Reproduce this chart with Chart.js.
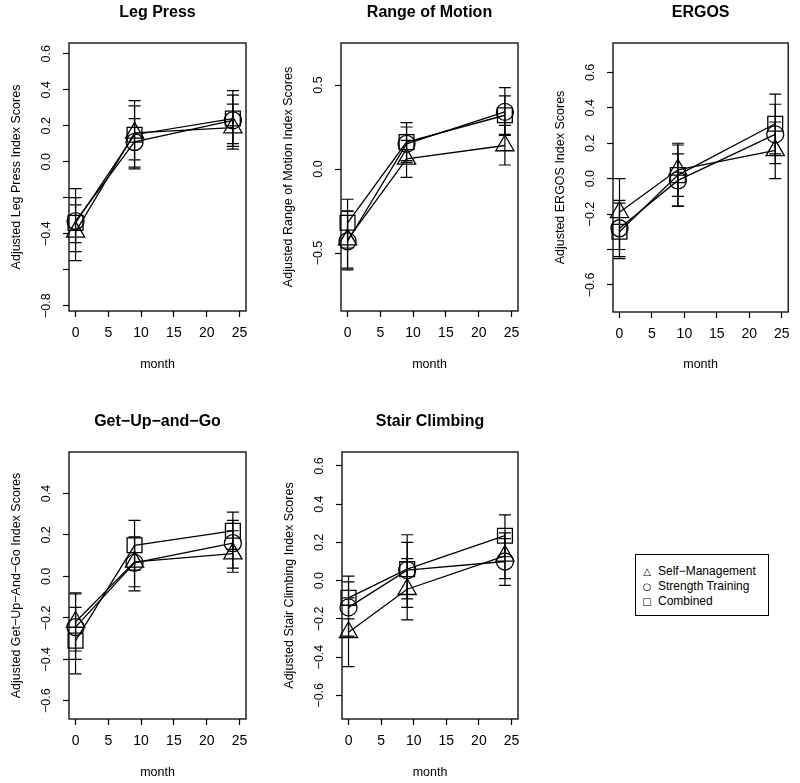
<!DOCTYPE html>
<html>
<head>
<meta charset="utf-8">
<script src="https://cdn.jsdelivr.net/npm/chart.js@4.4.1/dist/chart.umd.min.js"></script>
<style>
  body { margin: 0; background: #fff; width: 800px; height: 783px; overflow: hidden; position: relative;
         font-family: "Liberation Sans", Arial, sans-serif; }
  .panel { position: absolute; }
  #legend { position: absolute; left: 635px; top: 554px; width: 134px; height: 62px; border: 1px solid #000;
            font-size: 12px; color: #000; box-sizing: border-box; padding-top: 9px; }
  #legend div { height: 15px; line-height: 15px; white-space: nowrap; }
  #legend span.sym { display: inline-block; width: 22px; text-align: center; font-family: "DejaVu Sans"; font-size: 10px; }
</style>
</head>
<body>
<div id="legend"></div>
<script>
// shared x values and tick labels
const months = [0, 5, 10, 15, 20, 25];
const visits = [0, 9, 24];
const seriesNames = ['Self\u2212Management', 'Strength Training', 'Combined'];
const seriesSymbols = ['triangle', 'circle', 'rect'];

// Leg Press: [self, strength, combined]
const legPressMean = [[-0.39, 0.16, 0.19], [-0.33, 0.11, 0.23], [-0.34, 0.15, 0.24]];
const legPressLow  = [[-0.55, 0.01, 0.07], [-0.50, -0.03, 0.085], [-0.45, -0.04, 0.10]];
const legPressHigh = [[-0.24, 0.31, 0.32], [-0.15, 0.24, 0.37], [-0.20, 0.34, 0.395]];
const legPressTicks = [-0.8, -0.6, -0.4, -0.2, 0, 0.2, 0.4, 0.6];
const legPressLabels = ['\u22120.8', '', '\u22120.4', '', '0.0', '0.2', '0.4', '0.6'];

// Range of Motion
const romMean = [[-0.42, 0.06, 0.14], [-0.43, 0.15, 0.34], [-0.32, 0.16, 0.32]];
const romLow  = [[-0.59, -0.05, 0.024], [-0.60, 0.04, 0.20], [-0.47, 0.05, 0.206]];
const romHigh = [[-0.25, 0.17, 0.26], [-0.25, 0.25, 0.484], [-0.18, 0.276, 0.435]];
const romTicks = [-0.5, 0, 0.5];
const romLabels = ['\u22120.5', '0.0', '0.5'];

// ERGOS
const ergosMean = [[-0.19, 0.05, 0.16], [-0.28, -0.01, 0.25], [-0.30, 0.02, 0.31]];
const ergosLow  = [[-0.40, -0.10, 0.0], [-0.44, -0.155, 0.085], [-0.452, -0.155, 0.14]];
const ergosHigh = [[0.0, 0.20, 0.32], [-0.123, 0.14, 0.42], [-0.138, 0.19, 0.477]];
const ergosTicks = [-0.6, -0.4, -0.2, 0, 0.2, 0.4, 0.6];
const ergosLabels = ['\u22120.6', '', '\u22120.2', '0.0', '0.2', '0.4', '0.6'];

// Get-Up-and-Go
const gugMean = [[-0.22, 0.07, 0.11], [-0.245, 0.065, 0.16], [-0.31, 0.15, 0.22]];
const gugLow  = [[-0.36, -0.05, 0.02], [-0.40, -0.07, 0.04], [-0.47, 0.03, 0.13]];
const gugHigh = [[-0.08, 0.19, 0.22], [-0.085, 0.19, 0.27], [-0.15, 0.27, 0.31]];
const gugTicks = [-0.6, -0.4, -0.2, 0, 0.2, 0.4];
const gugLabels = ['\u22120.6', '\u22120.4', '\u22120.2', '0.0', '0.2', '0.4'];

// Stair Climbing
const stairMean = [[-0.27, -0.045, 0.13], [-0.14, 0.055, 0.10], [-0.09, 0.06, 0.235]];
const stairLow  = [[-0.45, -0.205, 0.01], [-0.29, -0.095, -0.025], [-0.20, -0.14, 0.125]];
const stairHigh = [[-0.09, 0.115, 0.25], [-0.007, 0.20, 0.22], [0.024, 0.24, 0.344]];
const stairTicks = [-0.6, -0.4, -0.2, 0, 0.2, 0.4, 0.6];
const stairLabels = ['\u22120.6', '\u22120.4', '\u22120.2', '0.0', '0.2', '0.4', '0.6'];

const panels = [
  { title: 'Leg Press', yTitle: 'Adjusted Leg Press Index Scores', mean: legPressMean, low: legPressLow, high: legPressHigh,
    ticks: legPressTicks, labels: legPressLabels, yMin: -0.83, yMax: 0.66, left: 0, top: 0, w: 265, box: [69, 43, 246, 311] },
  { title: 'Range of Motion', yTitle: 'Adjusted Range of Motion Index Scores', mean: romMean, low: romLow, high: romHigh,
    ticks: romTicks, labels: romLabels, yMin: -0.845, yMax: 0.75, left: 265, top: 0, w: 265, box: [76, 43, 253, 311] },
  { title: 'ERGOS', yTitle: 'Adjusted ERGOS Index Scores', mean: ergosMean, low: ergosLow, high: ergosHigh,
    ticks: ergosTicks, labels: ergosLabels, yMin: -0.753, yMax: 0.766, left: 530, top: 0, w: 270, box: [83, 43, 261, 312] },
  { title: 'Get\u2212Up\u2212and\u2212Go', yTitle: 'Adjusted Get\u2212Up\u2212And\u2212Go Index Scores', mean: gugMean, low: gugLow, high: gugHigh,
    ticks: gugTicks, labels: gugLabels, yMin: -0.688, yMax: 0.6, left: 0, top: 408, w: 265, box: [69, 44, 246, 311] },
  { title: 'Stair Climbing', yTitle: 'Adjusted Stair Climbing Index Scores', mean: stairMean, low: stairLow, high: stairHigh,
    ticks: stairTicks, labels: stairLabels, yMin: -0.724, yMax: 0.673, left: 265, top: 408, w: 265, box: [77, 44, 253, 311] },
];

const FONT = '"Liberation Sans", Arial, sans-serif';
const canvasH = 390;

// error bars, the box around the plot and the panel title
const panelDecor = {
  id: 'panelDecor',
  afterDatasetsDraw(chart, args, opts) {
    const { ctx, chartArea: a, scales: { x, y } } = chart;
    ctx.save();
    ctx.strokeStyle = '#000';
    ctx.lineWidth = 1.2;
    chart.data.datasets.forEach(ds => {
      ds.low.forEach((lo, i) => {
        const px = x.getPixelForValue(visits[i]);
        const pTop = y.getPixelForValue(ds.high[i]);
        const pBot = y.getPixelForValue(lo);
        ctx.beginPath();
        ctx.moveTo(px, pTop); ctx.lineTo(px, pBot);
        ctx.moveTo(px - 6, pTop); ctx.lineTo(px + 6, pTop);
        ctx.moveTo(px - 6, pBot); ctx.lineTo(px + 6, pBot);
        ctx.stroke();
      });
    });
    ctx.lineWidth = 1.3;
    ctx.strokeRect(a.left, a.top, a.right - a.left, a.bottom - a.top);
    ctx.fillStyle = '#000';
    ctx.font = 'bold 16px ' + FONT;
    ctx.textAlign = 'center';
    ctx.textBaseline = 'middle';
    ctx.fillText(opts.text, (a.left + a.right) / 2, a.top - 30);
    ctx.restore();
  }
};

panels.forEach((p, k) => {
  const wrap = document.createElement('div');
  wrap.className = 'panel';
  wrap.style.left = p.left + 'px';
  wrap.style.top = p.top + 'px';
  const canvas = document.createElement('canvas');
  canvas.width = p.w;
  canvas.height = canvasH;
  wrap.appendChild(canvas);
  document.body.appendChild(wrap);

  const [bl, bt, br, bb] = p.box;
  const datasets = seriesNames.map((name, s) => ({
    label: name,
    data: visits.map((m, i) => ({ x: m, y: p.mean[s][i] })),
    low: p.low[s],
    high: p.high[s],
    borderColor: '#000',
    borderWidth: 1.3,
    backgroundColor: 'rgba(0,0,0,0)',
    pointStyle: seriesSymbols[s],
    pointRadius: [10.5, 8.5, 10.5][s],
    pointBorderWidth: 1.3,
    pointBorderColor: '#000',
    pointBackgroundColor: 'rgba(0,0,0,0)',
    tension: 0,
  }));

  new Chart(canvas.getContext('2d'), {
    type: 'line',
    data: { datasets },
    plugins: [panelDecor],
    options: {
      responsive: false,
      animation: false,
      clip: false,
      layout: { padding: { left: 0, top: bt, right: p.w - br, bottom: 0 } },
      plugins: {
        legend: { display: false },
        tooltip: { enabled: false },
        panelDecor: { text: p.title },
      },
      scales: {
        x: {
          type: 'linear',
          min: -1,
          max: 26,
          afterBuildTicks: axis => { axis.ticks = months.map(v => ({ value: v })); },
          afterFit: axis => { axis.height = canvasH - bb; },
          grid: { drawOnChartArea: false, drawTicks: true, tickLength: 6, color: '#000', tickWidth: 1.2 },
          border: { display: false },
          ticks: { color: '#000', font: { family: FONT, size: 14 }, padding: 8, maxRotation: 0,
                   callback: v => String(v) },
          title: { display: true, text: 'month', color: '#000', font: { family: FONT, size: 12.5 },
                   padding: { top: 0, bottom: 18 } },
        },
        y: {
          type: 'linear',
          min: p.yMin,
          max: p.yMax,
          afterBuildTicks: axis => { axis.ticks = p.ticks.map(v => ({ value: v })); },
          afterFit: axis => { axis.width = bl; },
          grid: { drawOnChartArea: false, drawTicks: true, tickLength: 6, color: '#000', tickWidth: 1.2 },
          border: { display: false },
          ticks: { color: '#000', font: { family: FONT, size: 12.5 }, padding: 4, minRotation: 90, maxRotation: 90,
                   crossAlign: 'center',
                   callback: (v, i) => p.labels[i] },
          title: { display: true, text: p.yTitle, color: '#000', font: { family: FONT, size: 12.5 },
                   padding: { top: bl - 52 - 7.5, bottom: 0 } },
        },
      },
    },
  });
});

// legend
const legend = document.getElementById('legend');
const legendGlyphs = ['\u25B3', '\u25CB', '\u25A1'];
seriesNames.forEach((name, s) => {
  const row = document.createElement('div');
  row.innerHTML = '<span class="sym">' + legendGlyphs[s] + '</span>' + name;
  legend.appendChild(row);
});
</script>
</body>
</html>
